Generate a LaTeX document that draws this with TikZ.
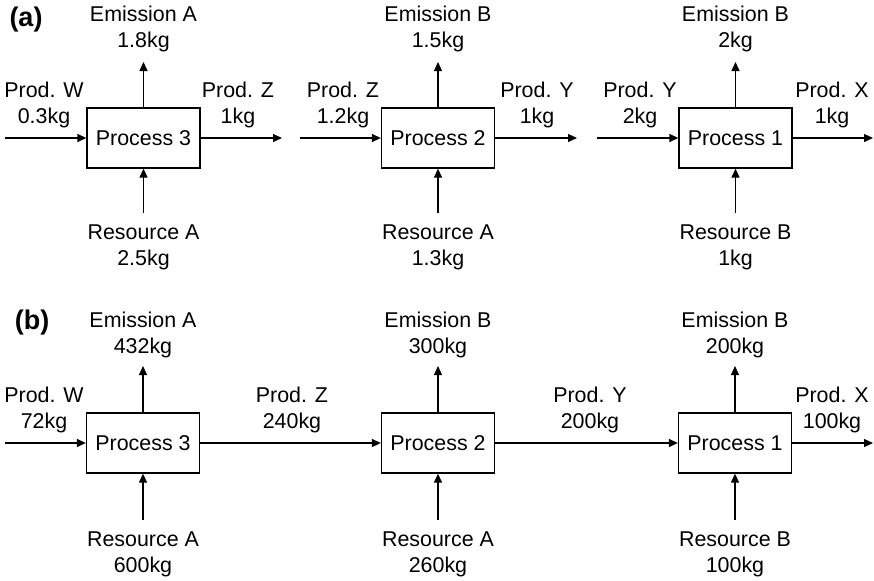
\documentclass[tikz,border=0pt]{standalone}
\usepackage{fontspec}
\setmainfont{Liberation Sans}
\usetikzlibrary{arrows.meta}
\begin{document}
\begin{tikzpicture}[x=0.5pt,y=-0.5pt,
  every node/.style={font=\fontsize{10.7}{13}\selectfont},
  proc/.style={draw,line width=0.65pt,minimum width=56.5pt,minimum height=30pt,inner sep=0pt},
  lbl/.style={align=center,inner sep=0pt},
  tag/.style={inner sep=0pt,font=\fontsize{13.5}{15}\selectfont\bfseries},
  flow/.style={line width=0.65pt,-{Triangle[length=4.5pt,width=4pt]}}]
\useasboundingbox (0,0) rectangle (874,580);
% ---------- (a)
\node[tag] (ta) at (26,20) {(a)};
\node[proc] (p3a) at (143.5,138) {Process 3};
\node[proc] (p2a) at (438,138) {Process 2};
\node[proc] (p1a) at (735.5,138) {Process 1};
\coordinate (w3a) at (5,138);
\coordinate (z3a) at (282,138);
\coordinate (z2a) at (300,138);
\coordinate (y2a) at (577,138);
\coordinate (y1a) at (597,138);
\coordinate (x1a) at (873,138);
\coordinate (e3a) at (143.5,62);
\coordinate (e2a) at (438,62);
\coordinate (e1a) at (735.5,62);
\coordinate (r3a) at (143.5,213);
\coordinate (r2a) at (438,213);
\coordinate (r1a) at (735.5,213);
\draw[flow] (w3a) -- (p3a.west);
\draw[flow] (p3a.east) -- (z3a);
\draw[flow] (z2a) -- (p2a.west);
\draw[flow] (p2a.east) -- (y2a);
\draw[flow] (y1a) -- (p1a.west);
\draw[flow] (p1a.east) -- (x1a);
\draw[flow] (p3a.north) -- (e3a);
\draw[flow] (p2a.north) -- (e2a);
\draw[flow] (p1a.north) -- (e1a);
\draw[flow] (r3a) -- (p3a.south);
\draw[flow] (r2a) -- (p2a.south);
\draw[flow] (r1a) -- (p1a.south);
\node[lbl] (lw3a) at (44,105) {Prod. W\\0.3kg};
\node[lbl] (lz3a) at (238,105) {Prod. Z\\1kg};
\node[lbl] (lz2a) at (343,105) {Prod. Z\\1.2kg};
\node[lbl] (ly2a) at (537,105) {Prod. Y\\1kg};
\node[lbl] (ly1a) at (640,105) {Prod. Y\\2kg};
\node[lbl] (lx1a) at (832,105) {Prod. X\\1kg};
\node[lbl] (le3a) at (143.5,29) {Emission A\\1.8kg};
\node[lbl] (le2a) at (438,29) {Emission B\\1.5kg};
\node[lbl] (le1a) at (735.5,29) {Emission B\\2kg};
\node[lbl] (lr3a) at (143.5,247.5) {Resource A\\2.5kg};
\node[lbl] (lr2a) at (438,247.5) {Resource A\\1.3kg};
\node[lbl] (lr1a) at (735.5,247.5) {Resource B\\1kg};
% ---------- (b)
\node[tag] (tb) at (32,323) {(b)};
\node[proc] (p3b) at (143,443) {Process 3};
\node[proc] (p2b) at (438,443) {Process 2};
\node[proc] (p1b) at (735,443) {Process 1};
\coordinate (w3b) at (5,443);
\coordinate (x1b) at (873,443);
\coordinate (e3b) at (143,366);
\coordinate (e2b) at (438,366);
\coordinate (e1b) at (735,366);
\coordinate (r3b) at (143,520);
\coordinate (r2b) at (438,520);
\coordinate (r1b) at (735,520);
\draw[flow] (w3b) -- (p3b.west);
\draw[flow] (p3b.east) -- (p2b.west);
\draw[flow] (p2b.east) -- (p1b.west);
\draw[flow] (p1b.east) -- (x1b);
\draw[flow] (p3b.north) -- (e3b);
\draw[flow] (p2b.north) -- (e2b);
\draw[flow] (p1b.north) -- (e1b);
\draw[flow] (r3b) -- (p3b.south);
\draw[flow] (r2b) -- (p2b.south);
\draw[flow] (r1b) -- (p1b.south);
\node[lbl] (lw3b) at (44,410) {Prod. W\\72kg};
\node[lbl] (lz3b) at (292,410) {Prod. Z\\240kg};
\node[lbl] (ly2b) at (590,410) {Prod. Y\\200kg};
\node[lbl] (lx1b) at (832,410) {Prod. X\\100kg};
\node[lbl] (le3b) at (143,335) {Emission A\\432kg};
\node[lbl] (le2b) at (438,335) {Emission B\\300kg};
\node[lbl] (le1b) at (735,335) {Emission B\\200kg};
\node[lbl] (lr3b) at (143,554.5) {Resource A\\600kg};
\node[lbl] (lr2b) at (438,554.5) {Resource A\\260kg};
\node[lbl] (lr1b) at (735,554.5) {Resource B\\100kg};
\end{tikzpicture}
\end{document}
